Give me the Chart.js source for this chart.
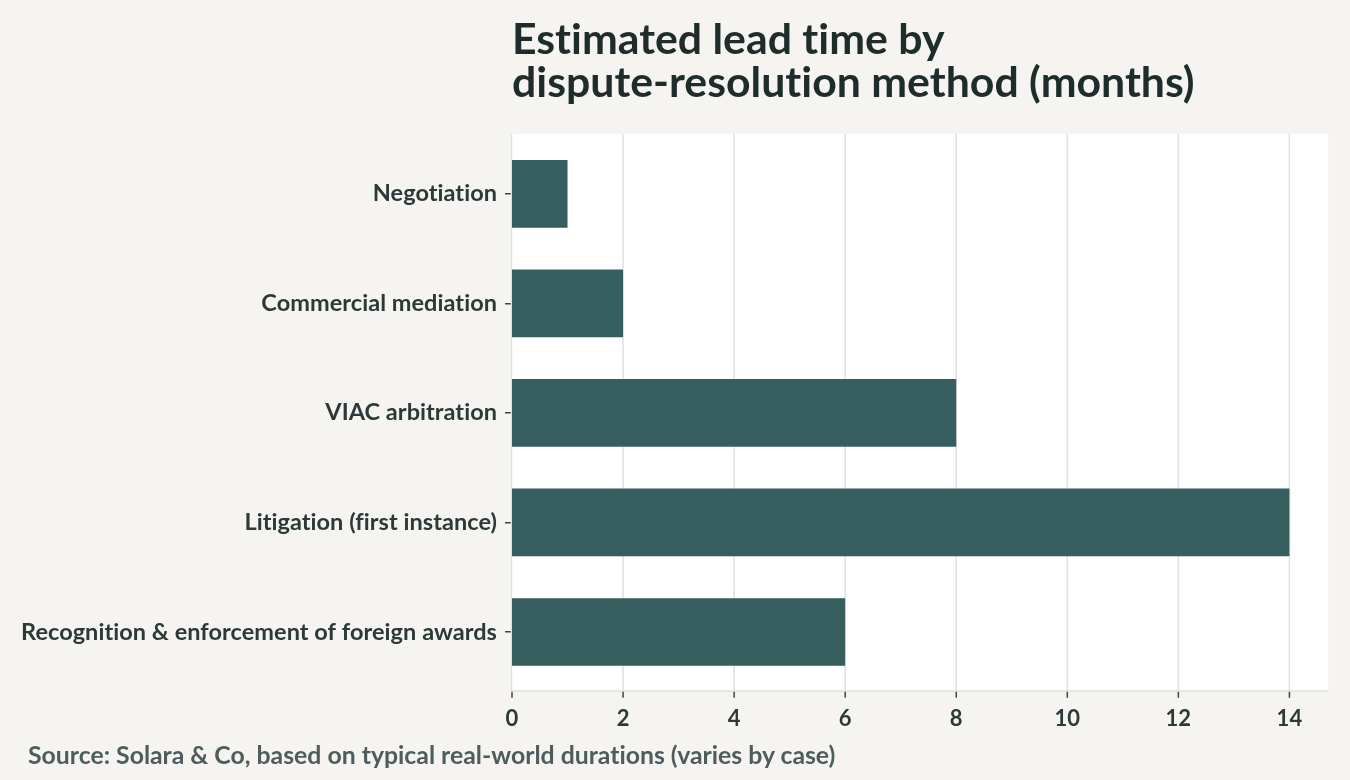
<!DOCTYPE html>
<html>
<head>
<meta charset="utf-8">
<script src="https://cdn.jsdelivr.net/npm/chart.js@4"></script>
<style>
  html, body { margin: 0; padding: 0; background: #f5f4f0; }
  #wrap { position: relative; width: 1350px; height: 780px; }
  #chart { position: absolute; left: 0; top: 0; }
  .title {
    position: absolute; left: 512px; top: 17px;
    font-family: Lato, sans-serif; font-weight: 700; font-size: 42.8px; line-height: 42.5px;
    color: #1f2c2c; margin: 0; font-variant-ligatures: none; white-space: nowrap;
  }
  .source {
    position: absolute; left: 28px; top: 740.5px;
    font-family: Lato, sans-serif; font-weight: 700; font-size: 24.8px; line-height: 28px;
    color: #4d5d5d; font-variant-ligatures: none; white-space: nowrap;
  }
</style>
</head>
<body>
<div id="wrap">
  <canvas id="chart" width="1350" height="780"></canvas>
  <h1 class="title">Estimated lead time by<br>dispute-resolution method (months)</h1>
  <div class="source">Source: Solara &amp; Co, based on typical real-world durations (varies by case)</div>
</div>
<script>
// ---- data ----
const categories = [
  "Negotiation",
  "Commercial mediation",
  "VIAC arbitration",
  "Litigation (first instance)",
  "Recognition & enforcement of foreign awards"
];
const leadMonths = [1, 2, 8, 14, 6];
const xTickValues = [0, 2, 4, 6, 8, 10, 12, 14];
const xMax = 14.7;

const BAR = "#375e5e";
const GRID = "#dde3e2";
const TEXT = "#2b3939";
const FONT = "Lato, sans-serif";

// white plot panel, grid lines, axis lines and x tick marks
const panel = {
  id: "panel",
  beforeDraw(chart) {
    const { ctx, chartArea: a } = chart;
    ctx.letterSpacing = "0.05px"; // keeps "ti" from turning into a ligature
    ctx.save();
    ctx.fillStyle = "#ffffff";
    ctx.fillRect(a.left, a.top - 5, a.right - a.left, a.bottom + 3.5 - (a.top - 5));
    ctx.restore();
  },
  beforeDatasetsDraw(chart) {
    const { ctx, chartArea: a, scales: { x } } = chart;
    const top = a.top - 5, bottom = a.bottom + 3.5;
    ctx.save();
    ctx.lineWidth = 1.5;
    ctx.strokeStyle = GRID;
    xTickValues.forEach(v => {
      if (v === 0) return;
      const px = x.getPixelForValue(v);
      ctx.beginPath(); ctx.moveTo(px, top); ctx.lineTo(px, bottom); ctx.stroke();
    });
    // axis lines
    ctx.beginPath(); ctx.moveTo(a.left - 0.5, top); ctx.lineTo(a.left - 0.5, bottom + 0.75); ctx.stroke();
    ctx.beginPath(); ctx.moveTo(a.left - 0.5, bottom + 0.75); ctx.lineTo(a.right, bottom + 0.75); ctx.stroke();
    // x tick marks
    ctx.strokeStyle = "#3a4848";
    xTickValues.forEach(v => {
      const px = x.getPixelForValue(v);
      ctx.beginPath(); ctx.moveTo(px, bottom + 1.5); ctx.lineTo(px, bottom + 7.5); ctx.stroke();
    });
    ctx.restore();
  }
};

new Chart(document.getElementById("chart"), {
  type: "bar",
  data: {
    labels: categories,
    datasets: [{
      data: leadMonths,
      backgroundColor: BAR,
      borderWidth: 0,
      categoryPercentage: 1,
      barPercentage: 0.618
    }]
  },
  options: {
    indexAxis: "y",
    responsive: false,
    animation: false,
    layout: { padding: { top: 139, right: 21.7, bottom: 0, left: 0 } },
    plugins: { legend: { display: false }, tooltip: { enabled: false }, title: { display: false } },
    scales: {
      x: {
        type: "linear",
        min: 0,
        max: xMax,
        afterBuildTicks: s => { s.ticks = xTickValues.map(v => ({ value: v })); },
        afterFit: s => { s.height = 93.2; },
        border: { display: false },
        grid: { display: false, drawTicks: false },
        ticks: { color: TEXT, padding: 18.5, font: { family: FONT, size: 22, weight: "bold" } }
      },
      y: {
        afterFit: s => { s.width = 512; },
        border: { display: false },
        grid: { display: true, drawOnChartArea: false, drawTicks: true, offset: false, tickLength: 7, tickColor: "#3a4848", lineWidth: 1.5 },
        ticks: { color: TEXT, padding: 8, font: { family: FONT, size: 23.5, weight: "bold" } }
      }
    }
  },
  plugins: [panel]
});
</script>
</body>
</html>
